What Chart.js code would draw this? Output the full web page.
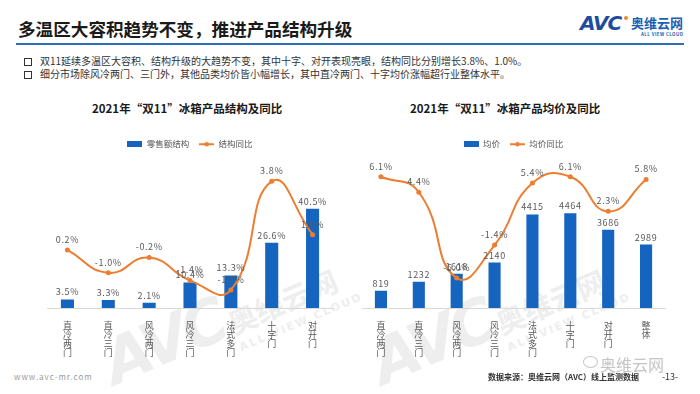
<!DOCTYPE html>
<html lang="zh-CN">
<head>
<meta charset="UTF-8">
<title>多温区大容积趋势不变，推进产品结构升级</title>
<script src="https://cdn.jsdelivr.net/npm/chart.js@4.4.1/dist/chart.umd.min.js"></script>
<style>
  html, body { margin: 0; padding: 0; background: #fff; }
  body {
    width: 700px; height: 394px; position: relative; overflow: hidden;
    font-family: "Noto Sans CJK SC", "Noto Sans", sans-serif;
  }
  .title { position: absolute; left: 18px; top: 16px; font-size: 17.6px; font-weight: bold; color: #1a1a1a; }
  .rule { position: absolute; left: 16px; top: 43px; width: 668px; height: 2px; background: #2F6EB5; }
  .logo-avc { position: absolute; left: 580px; top: 11px; font: italic 900 20px "DejaVu Sans", sans-serif; color: #1D4C9E; letter-spacing: -1px; }
  .logo-dot { position: absolute; left: 624px; top: 16px; width: 4px; height: 4px; border-radius: 50%; background: #F08A24; }
  .logo-cn { position: absolute; left: 631px; top: 13px; font-size: 13px; font-weight: bold; color: #1D5FB0; }
  .logo-en { position: absolute; left: 641px; top: 31px; font-size: 4.5px; font-weight: bold; color: #1D5FB0; letter-spacing: 0.4px; }
  .bullets { position: absolute; left: 24px; top: 54px; font-size: 10px; color: #333; line-height: 13px; }
  .bullets div::before {
    content: ''; display: inline-block; width: 6px; height: 6px; border: 1.2px solid #333;
    margin-right: 8px; vertical-align: -1px;
  }
  .ctitle { position: absolute; top: 100px; font-size: 11.5px; font-weight: bold; color: #1a1a1a; white-space: nowrap; }
  canvas { position: absolute; }
  .wm { position: absolute; color: #eeeeee; white-space: nowrap; transform: rotate(-23deg); transform-origin: 0 0; }
  .wm .a { font: italic 900 62px "DejaVu Sans", sans-serif; letter-spacing: -4px; }
  .wm .b { font-size: 29px; font-weight: bold; margin-left: 4px; }
  .wm .c { position: absolute; left: 130px; top: 66px; font: bold 11px "DejaVu Sans", sans-serif; letter-spacing: 2px; }
  .foot-url { position: absolute; left: 14px; top: 371px; font-size: 8px; color: #9a9a9a; letter-spacing: 1px; }
  .foot-src { position: absolute; left: 488px; top: 371px; font-size: 8px; color: #333; font-weight: bold; }
  .foot-page { position: absolute; left: 662px; top: 370px; font-size: 9px; color: #333; }
  .wm-wx { position: absolute; left: 600px; top: 352px; font-size: 16px; color: #c4c4c4; }
  .wm-ic { position: absolute; left: 583px; top: 356px; width: 13px; height: 10px; border: 1px solid #c4c4c4; border-radius: 50%; }
</style>
</head>
<body>
<div class="wm" style="left:92px; top:332px;"><span class="a">AVC</span><span class="b">奥维云网</span><span class="c">ALL VIEW CLOUD</span></div>
<div class="wm" style="left:360px; top:332px;"><span class="a">AVC</span><span class="b">奥维云网</span><span class="c">ALL VIEW CLOUD</span></div>

<div class="title">多温区大容积趋势不变，推进产品结构升级</div>
<div class="rule"></div>
<div class="logo-avc">AVC</div>
<div class="logo-dot"></div>
<div class="logo-cn">奥维云网</div>
<div class="logo-en">ALL VIEW CLOUD</div>

<div class="bullets">
  <div>双11延续多温区大容积、结构升级的大趋势不变，其中十字、对开表现亮眼，结构同比分别增长3.8%、1.0%。</div>
  <div>细分市场除风冷两门、三门外，其他品类均价皆小幅增长，其中直冷两门、十字均价涨幅超行业整体水平。</div>
</div>

<div class="ctitle" style="left:92px;">2021年“双11”冰箱产品结构及同比</div>
<div class="ctitle" style="left:410px;">2021年“双11”冰箱产品均价及同比</div>

<canvas id="structChart" width="325" height="272" style="left:20px; top:92px;"></canvas>
<canvas id="priceChart" width="340" height="272" style="left:350px; top:92px;"></canvas>

<div class="foot-url">www.avc-mr.com</div>
<div class="wm-ic"></div>
<div class="wm-wx">奥维云网</div>
<div class="foot-src">数据来源：奥维云网（AVC）线上监测数据</div>
<div class="foot-page">-13-</div>

<script>
// ---- data ----
const structCats = ['直冷两门', '直冷三门', '风冷两门', '风冷三门', '法式多门', '十字门', '对开门'];
const structShare = [3.5, 3.3, 2.1, 10.4, 13.3, 26.6, 40.5];     // 零售额结构 %
const structYoy = [0.2, -1.0, -0.2, -1.4, -1.9, 3.8, 1.0];       // 结构同比 %

const priceCats = ['直冷两门', '直冷三门', '风冷两门', '风冷三门', '法式多门', '十字门', '对开门', '整体'];
const avgPrice = [819, 1232, 1618, 2140, 4415, 4464, 3686, 2989]; // 均价 元
const priceYoy = [6.1, 4.4, -5.0, -1.4, 5.4, 6.1, 2.3, 5.8];       // 均价同比 %

const BLUE = '#1565C0';
const ORANGE = '#ED7D31';
const FONT = '"Noto Sans CJK SC", "Noto Sans", sans-serif';

// vertical category text: one character per line
function vertical(label) { return label.split(''); }

// little legend markers
function boxMarker() {
  const c = document.createElement('canvas');
  c.width = 15; c.height = 6;
  const x = c.getContext('2d');
  x.fillStyle = BLUE;
  x.fillRect(0, 0, 15, 6);
  return c;
}
function lineMarker() {
  const c = document.createElement('canvas');
  c.width = 15; c.height = 6;
  const x = c.getContext('2d');
  x.strokeStyle = ORANGE; x.lineWidth = 2;
  x.beginPath(); x.moveTo(0, 3); x.lineTo(15, 3); x.stroke();
  x.fillStyle = ORANGE;
  x.beginPath(); x.arc(7.5, 3, 2.3, 0, Math.PI * 2); x.fill();
  return c;
}

// draws value labels above bars and points
const valueLabels = {
  id: 'valueLabels',
  afterDatasetsDraw(chart) {
    const ctx = chart.ctx;
    ctx.save();
    ctx.font = '9px ' + FONT;
    ctx.letterSpacing = '0.6px';
    ctx.fillStyle = '#595959';
    ctx.textAlign = 'center';
    ctx.textBaseline = 'bottom';
    chart.data.datasets.forEach((ds, i) => {
      const meta = chart.getDatasetMeta(i);
      meta.data.forEach((el, j) => {
        const gap = ds.type === 'line' ? 6 : 3;
        ctx.fillText(ds.fmt(ds.data[j]), el.x, el.y - gap);
      });
    });
    ctx.restore();
  }
};

function makeChart(id, cats, bars, barName, line, lineName, barFmt, ranges, pad) {
  const boxImg = boxMarker();
  const lineImg = lineMarker();
  return new Chart(document.getElementById(id), {
    data: {
      labels: cats.map(vertical),
      datasets: [{
        type: 'bar',
        label: barName,
        data: bars,
        backgroundColor: BLUE,
        categoryPercentage: 1,
        barPercentage: 0.32,
        yAxisID: 'y',
        order: 2,
        fmt: barFmt
      }, {
        type: 'line',
        label: lineName,
        data: line,
        borderColor: ORANGE,
        backgroundColor: ORANGE,
        borderWidth: 2,
        tension: 0.5,
        pointRadius: 2.5,
        pointBorderWidth: 0,
        pointBackgroundColor: ORANGE,
        yAxisID: 'y1',
        order: 1,
        clip: false,
        fmt: v => v.toFixed(1) + '%'
      }]
    },
    options: {
      responsive: false,
      animation: false,
      layout: { padding: pad },
      plugins: {
        tooltip: { enabled: false },
        legend: {
          labels: {
            font: { size: 8.5, family: FONT },
            color: '#595959',
            usePointStyle: true,
            pointStyleWidth: 15,
            padding: 10,
            generateLabels(chart) {
              const items = Chart.defaults.plugins.legend.labels.generateLabels(chart);
              items.sort((a, b) => a.datasetIndex - b.datasetIndex);
              items.forEach(it => { it.pointStyle = it.datasetIndex === 0 ? boxImg : lineImg; });
              return items;
            }
          }
        }
      },
      scales: {
        x: {
          grid: { display: false },
          border: { display: true, color: '#D9D9D9', width: 1 },
          ticks: {
            color: '#595959',
            font: { size: 9, family: FONT, lineHeight: 1.0 },
            maxRotation: 0, autoSkip: false, padding: 5
          }
        },
        y: { display: false, min: 0, max: ranges.barMax },
        y1: { display: false, min: ranges.lineMin, max: ranges.lineMax }
      }
    },
    plugins: [valueLabels]
  });
}

makeChart('structChart', structCats, structShare, '零售额结构', structYoy, '结构同比',
  v => v.toFixed(1) + '%',
  { barMax: 61, lineMin: -2.85, lineMax: 5.0 },
  { top: 38, left: 27, right: 12, bottom: 2 });

makeChart('priceChart', priceCats, avgPrice, '均价', priceYoy, '均价同比',
  v => String(v),
  { barMax: 7050, lineMin: -8.3, lineMax: 8.1 },
  { top: 38, left: 12, right: 25, bottom: 2 });
</script>
</body>
</html>
